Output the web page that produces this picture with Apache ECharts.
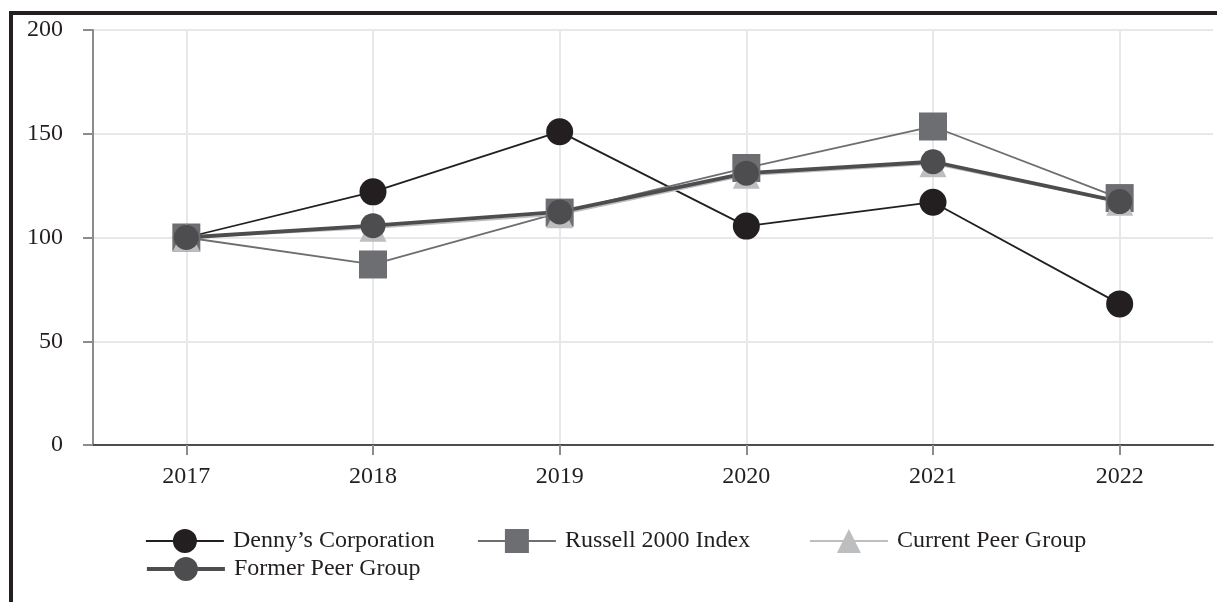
<!DOCTYPE html>
<html>
<head>
<meta charset="utf-8">
<script src="https://cdn.jsdelivr.net/npm/echarts@6/dist/echarts.min.js"></script>
<style>
  html, body { margin: 0; padding: 0; background: #ffffff; }
  #wrap { position: relative; width: 1217px; height: 602px; overflow: hidden; }
  #chart { position: absolute; left: 0; top: 0; width: 1217px; height: 602px; }
  #frame { position: absolute; left: 9px; top: 11px; right: 0; bottom: 0;
           border-left: 4px solid #231f20; border-top: 4px solid #231f20; pointer-events: none; }
</style>
</head>
<body>
<div id="wrap">
  <div id="chart"></div>
  <div id="frame"></div>
</div>
<script>
const years = ['2017', '2018', '2019', '2020', '2021', '2022'];
const dennys = [100, 122, 151, 105.5, 117, 68];
const russell = [100, 87, 112, 133.5, 153.5, 119];
const currentPeer = [100, 104.5, 111, 130, 135.5, 117];
const formerPeer = [100, 105.7, 112.3, 131, 136.5, 117.3];
const seriesNames = ['Denny’s Corporation', 'Russell 2000 Index', 'Current Peer Group', 'Former Peer Group'];
const yTicks = [0, 50, 100, 150, 200];

const FONT = '"Liberation Serif", "Times New Roman", serif';
const TEXT = '#231f20';

const chart = echarts.init(document.getElementById('chart'), null, { renderer: 'canvas' });

const legendCommon = {
  orient: 'horizontal',
  itemWidth: 78,
  itemHeight: 30,
  itemGap: 10,
  padding: 0,
  lineStyle: { width: 'inherit' },
  textStyle: { fontFamily: FONT, fontSize: 24, color: TEXT, padding: [0, 0, 0, 4] },
  inactiveColor: '#ccc'
};
const legendSlots = [
  { left: 145, top: 529 },
  { left: 477, top: 529 },
  { left: 809, top: 529 },
  { left: 145, top: 557 }
];

chart.setOption({
  animation: false,
  backgroundColor: '#ffffff',
  grid: { left: 93, right: 4, top: 30, bottom: 157, containLabel: false, outerBoundsMode: 'none' },
  legend: seriesNames.map((n, i) => Object.assign({}, legendCommon, legendSlots[i], { data: [n] })),
  xAxis: {
    type: 'category',
    data: years,
    boundaryGap: true,
    axisLine: { show: true, lineStyle: { color: '#4d4d4f', width: 2 } },
    axisTick: { show: true, alignWithLabel: true, length: 10, lineStyle: { color: '#8c8c8c', width: 2 } },
    axisLabel: { fontFamily: FONT, fontSize: 24, color: TEXT, margin: 20 },
    splitLine: { show: true, alignWithLabel: true, lineStyle: { color: '#e8e8ea', width: 2 } }
  },
  yAxis: {
    type: 'value',
    min: yTicks[0],
    max: yTicks[yTicks.length - 1],
    interval: yTicks[1] - yTicks[0],
    axisLine: { show: true, lineStyle: { color: '#8c8c8c', width: 2 } },
    axisTick: { show: true, length: 10, lineStyle: { color: '#8c8c8c', width: 2 } },
    axisLabel: { fontFamily: FONT, fontSize: 24, color: TEXT, margin: 30 },
    splitLine: { show: true, lineStyle: { color: '#e8e8ea', width: 2 } }
  },
  series: [
    {
      name: seriesNames[0], type: 'line', data: dennys,
      symbol: 'circle', symbolSize: 27,
      itemStyle: { color: '#231f20' },
      lineStyle: { color: '#231f20', width: 1.8 }
    },
    {
      name: seriesNames[1], type: 'line', data: russell,
      symbol: 'rect', symbolSize: 28,
      itemStyle: { color: '#6d6e71' },
      lineStyle: { color: '#6d6e71', width: 1.8 }
    },
    {
      name: seriesNames[2], type: 'line', data: currentPeer,
      symbol: 'triangle', symbolSize: 27,
      itemStyle: { color: '#bcbec0' },
      lineStyle: { color: '#bcbec0', width: 1.8 }
    },
    {
      name: seriesNames[3], type: 'line', data: formerPeer,
      symbol: 'circle', symbolSize: 25,
      itemStyle: { color: '#4d4d4f' },
      lineStyle: { color: '#4d4d4f', width: 3.8 }
    }
  ]
});
</script>
</body>
</html>
